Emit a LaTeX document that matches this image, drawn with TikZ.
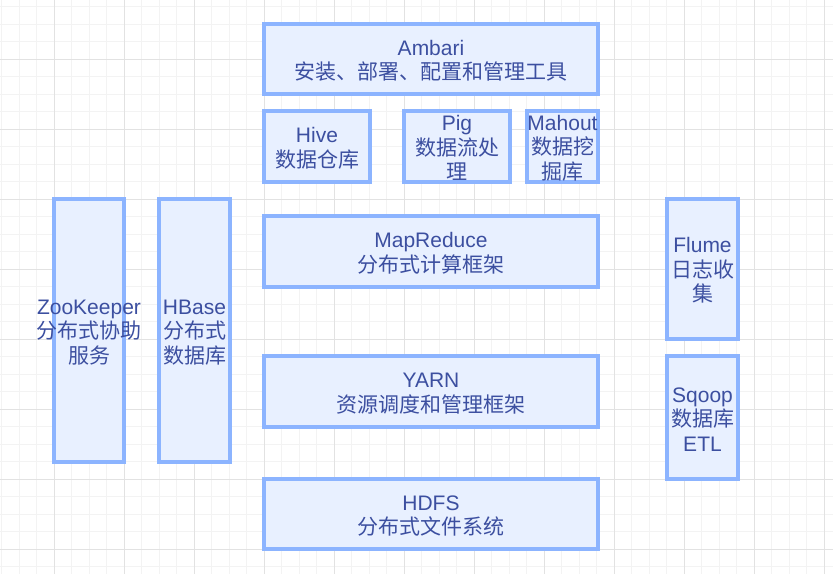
\documentclass[tikz,border=0pt]{standalone}
\usepackage{fontspec}
\setmainfont{Liberation Sans}
\newfontfamily\cjk{Noto Sans CJK SC}
\definecolor{bstroke}{HTML}{8CB4FF}
\definecolor{bfill}{HTML}{E8F0FF}
\definecolor{tcol}{HTML}{3C4FA0}
\definecolor{gminor}{HTML}{F3F3F3}
\definecolor{gmajor}{HTML}{E2E2E2}
\newcommand\zl[1]{\makebox[0pt][c]{#1}}
\newcommand\st{\rule{0pt}{18.5pt}}
\tikzset{
  box/.style={draw=bstroke, fill=bfill, line width=3.2pt, text=tcol, align=center,
    inner sep=0pt, font=\fontsize{21}{24.5}\selectfont},
}
\begin{document}
\begin{tikzpicture}[x=1pt,y=-1pt]
\useasboundingbox (0,0) rectangle (833,574);
\fill[white] (0,0) rectangle (833,574);
% grid
\foreach \i in {0,...,47} {
  \draw[gminor, line width=0.8pt] ({1.5+17.5*\i},0) -- ({1.5+17.5*\i},574);
}
\foreach \i in {0,...,32} {
  \draw[gminor, line width=0.8pt] (0,{6.5+17.5*\i}) -- (833,{6.5+17.5*\i});
}
\foreach \i in {0,...,11} {
  \draw[gmajor, line width=1pt] ({54+70*\i},0) -- ({54+70*\i},574);
}
\foreach \i in {0,...,8} {
  \draw[gmajor, line width=1pt] (0,{59+70*\i}) -- (833,{59+70*\i});
}
% boxes
\node[box, minimum width=334pt, minimum height=70pt] (ambari) at (431,59)
  {\st Ambari\\{\cjk 安装、部署、配置和管理工具}};
\node[box, minimum width=106pt, minimum height=71pt] (hive) at (317,146.5)
  {\st Hive\\{\cjk 数据仓库}};
\node[box, minimum width=106pt, minimum height=71pt] (pig) at (457,146.5)
  {\st Pig\\{\cjk 数据流处}\\{\cjk 理}};
\node[box, minimum width=71pt, minimum height=71pt] (mahout) at (562.5,146.5)
  {\zl{\st Mahout}\\{\cjk 数据挖}\\{\cjk 掘库}};
\node[box, minimum width=334pt, minimum height=71pt] (mapreduce) at (431,251.5)
  {\st MapReduce\\{\cjk 分布式计算框架}};
\node[box, minimum width=334pt, minimum height=71pt] (yarn) at (431,391.5)
  {\st YARN\\{\cjk 资源调度和管理框架}};
\node[box, minimum width=334pt, minimum height=70pt] (hdfs) at (431,514)
  {\st HDFS\\{\cjk 分布式文件系统}};
\node[box, minimum width=70pt, minimum height=263pt] (zookeeper) at (89,330.5)
  {\zl{\st ZooKeeper}\\{\cjk\zl{分布式协助}}\\{\cjk 服务}};
\node[box, minimum width=71pt, minimum height=263pt] (hbase) at (194.5,330.5)
  {\st HBase\\{\cjk 分布式}\\{\cjk 数据库}};
\node[box, minimum width=71pt, minimum height=140pt] (flume) at (702.5,269)
  {\st Flume\\{\cjk 日志收}\\{\cjk 集}};
\node[box, minimum width=71pt, minimum height=123pt] (sqoop) at (702.5,417.5)
  {\st Sqoop\\{\cjk 数据库}\\ETL};
\end{tikzpicture}
\end{document}
